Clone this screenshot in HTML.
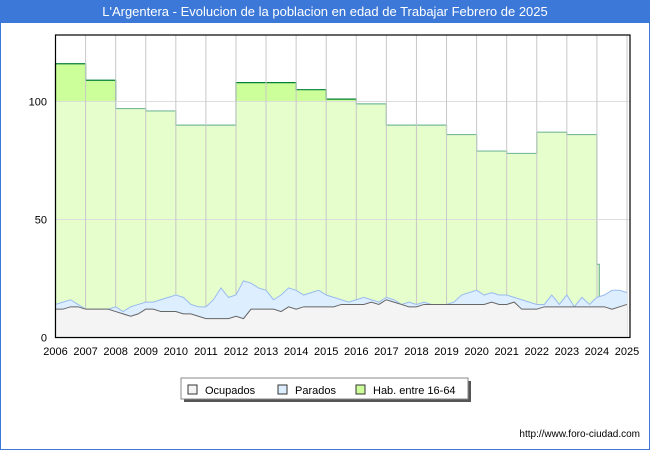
<!DOCTYPE html>
<html><head><meta charset="utf-8"><style>
body{margin:0;width:650px;height:450px;background:#fff;font-family:"Liberation Sans",sans-serif;overflow:hidden}
#wrap{position:absolute;left:0;top:0;width:648px;height:448px;border:1px solid #3c78d8}
#title{position:absolute;left:0;top:0;width:650px;height:23px;background:#3c78d8;color:#fff;font-size:13px;text-align:center;line-height:23px}
</style></head><body>
<div id="wrap"></div>
<div id="title">L'Argentera - Evolucion de la poblacion en edad de Trabajar Febrero de 2025</div>
<svg id="chart" width="650" height="450" style="position:absolute;left:0;top:0"></svg>
<script>
const yearLabels=[2006,2007,2008,2009,2010,2011,2012,2013,2014,2015,2016,2017,2018,2019,2020,2021,2022,2023,2024,2025];
const yTicks=[0,50,100];
const habValues=[116,109,97,96,90,90,108,108,105,101,99,90,90,86,79,78,87,86,31];
const ocupados=[12,12,13,13,12,12,12,12,11,10,9,10,12,12,11,11,11,10,10,9,8,8,8,8,9,8,12,12,12,12,11,13,12,13,13,13,13,13,14,14,14,14,15,14,16,15,14,13,13,14,14,14,14,14,14,14,14,14,15,14,14,15,12,12,12,13,13,13,13,13,13,13,13,13,12,13,14];
const parados=[2,3,3,1,0,0,0,0,2,1,4,4,3,3,5,6,7,7,4,4,5,8,13,9,9,16,11,9,8,4,7,8,8,5,6,7,5,4,2,1,2,3,1,1,1,1,0,2,1,1,0,0,0,1,4,5,6,4,4,4,4,2,4,3,2,1,5,1,5,0,4,1,4,5,8,7,5];
const NS='http://www.w3.org/2000/svg';
const svg=document.getElementById('chart');
const L=55.5,R=627,T=35,B=337.5;
const x=t=>L+(t-2006)*(R-L)/19;
const y=v=>B-v*2.36;
function mk(tag,attrs,parent){const e=document.createElementNS(NS,tag);for(const k in attrs)e.setAttribute(k,attrs[k]);(parent||svg).appendChild(e);return e;}
// background
const bg=mk('rect',{x:L,y:T,width:R+3-L,height:B-T,fill:'#fff'});


// hab area
let hp='M'+x(2006)+','+y(0);
habValues.forEach((v,i)=>{const t0=2006+i;const t1=i==habValues.length-1?t0+0.08:t0+1;hp+=' L'+x(t0)+','+y(v)+' L'+x(t1)+','+y(v);});
hp+=' L'+x(2024.08)+','+y(0)+' Z';
const defs=mk('defs',{});
const cp=mk('clipPath',{id:'above'},defs);mk('rect',{x:0,y:0,width:650,height:y(100)},cp);
const cb=mk('clipPath',{id:'below'},defs);mk('rect',{x:0,y:y(100),width:650,height:400},cb);
const ha=mk('path',{d:hp,fill:'#e6fdcc',stroke:'#77bb99','stroke-width':1.2,'clip-path':'url(#below)'});


const hb=mk('path',{d:hp,fill:'#ccff99',stroke:'#008033','stroke-width':1.2,'clip-path':'url(#above)'});


// grid
yTicks.forEach(v=>{if(v>0){const g=mk('line',{x1:L,x2:R+3,y1:y(v),y2:y(v),stroke:'#ddd'});}
const tx=mk('text',{x:47,y:y(v)+4,'text-anchor':'end','font-size':11,fill:'#000'});tx.textContent=v;
});
yearLabels.forEach(yr=>{if(yr>2006){const g=mk('line',{x1:x(yr),x2:x(yr),y1:T,y2:B,stroke:'#c8c8c8'});}
const tx=mk('text',{x:x(yr),y:355,'text-anchor':'middle','font-size':11,fill:'#000'});tx.textContent=yr;
});
// parados + ocupados
const tt=i=>2006+i*0.25;
let tot='M'+x(2006)+','+y(0),oc='M'+x(2006)+','+y(0),ocl='',totl='';
ocupados.forEach((o,i)=>{const s=o+parados[i];tot+=' L'+x(tt(i))+','+y(s);oc+=' L'+x(tt(i))+','+y(o);ocl+=(i?' L':'M')+x(tt(i))+','+y(o);totl+=(i?' L':'M')+x(tt(i))+','+y(s);});
tot+=' L'+x(tt(ocupados.length-1))+','+y(0)+' Z';oc+=' L'+x(tt(ocupados.length-1))+','+y(0)+' Z';
const pa=mk('path',{d:tot,fill:'#ddeeff'});
const pl=mk('path',{d:totl,fill:'none',stroke:'#99bbee','stroke-width':1});
const oa=mk('path',{d:oc,fill:'#f4f4f4'});
const ol=mk('path',{d:ocl,fill:'none',stroke:'#666','stroke-width':1});
const fr=mk('rect',{x:L,y:T,width:R+3-L,height:B-T,fill:'none',stroke:'#000','stroke-width':1.2});

// legend
const lg=mk('g',{});
mk('rect',{x:184,y:381,width:287,height:21,fill:'#555'},lg);
mk('rect',{x:181,y:378,width:287,height:21,fill:'#fff',stroke:'#888'},lg);
[['Ocupados','#f4f4f4',188],['Parados','#ddeeff',278],['Hab. entre 16-64','#ccff99',356]].forEach(e=>{
const g=mk('g',{},lg);
mk('rect',{x:e[2],y:385,width:9,height:9,fill:e[1],stroke:'#333'},g);
const t=mk('text',{x:e[2]+17,y:394,'font-size':11},g);t.textContent=e[0];});
const u=mk('text',{x:640,y:437,'text-anchor':'end','font-size':10,fill:'#000'});u.textContent='http://www.foro-ciudad.com';

</script>
</body></html>
